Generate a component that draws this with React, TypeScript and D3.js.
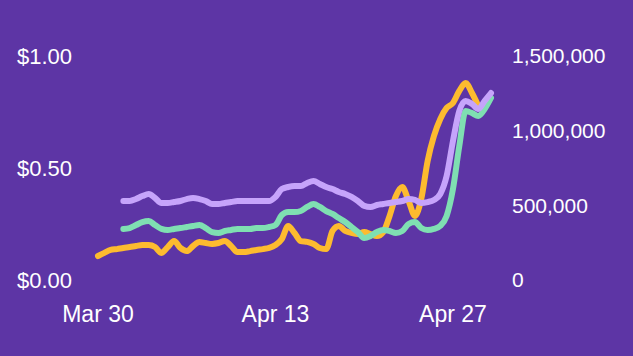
import React from "react";
import * as d3 from "d3";

const W = 633;
const H = 356;

// Half-day samples starting Mar 30, 2020
const startDate = new Date(2020, 2, 30);
const endDate = new Date(2020, 3, 30);
const stepHours = 12;

// Price series (left axis, $), starts Mar 30
const priceValues = [
  0.107, 0.121, 0.134, 0.138, 0.143, 0.147, 0.152, 0.156, 0.156, 0.147,
  0.121, 0.147, 0.174, 0.143, 0.129, 0.152, 0.17, 0.165, 0.161, 0.165,
  0.174, 0.152, 0.125, 0.125, 0.129, 0.134, 0.138, 0.143, 0.156, 0.183,
  0.241, 0.21, 0.174, 0.17, 0.161, 0.143, 0.138, 0.219, 0.241, 0.219,
  0.21, 0.205, 0.214, 0.205, 0.196, 0.214, 0.286, 0.375, 0.415, 0.353,
  0.286, 0.362, 0.531, 0.643, 0.719, 0.768, 0.79, 0.844, 0.879, 0.835,
  0.777,
];

// Count series (right axis), in thousands, start Apr 1
const seriesStartIndex = 4;
const purpleValues = [
  529, 529, 542, 562, 576, 549, 516, 516, 522, 529, 542, 549, 542, 529, 509,
  509, 516, 522, 529, 529, 529, 529, 529, 529, 556, 609, 623, 629, 629, 650,
  663, 643, 623, 609, 589, 576, 556, 529, 496, 489, 502, 509, 516, 522, 529,
  542, 536, 516, 522, 536, 576, 696, 931, 1132, 1199, 1179, 1145, 1199, 1252,
];
const greenValues = [
  342, 348, 368, 388, 395, 368, 342, 335, 342, 348, 355, 362, 368, 348, 321,
  315, 328, 335, 342, 342, 342, 348, 348, 355, 368, 435, 455, 455, 462, 489,
  509, 489, 462, 442, 415, 388, 355, 321, 281, 295, 321, 335, 328, 315, 328,
  375, 388, 348, 335, 342, 362, 429, 609, 897, 1132, 1118, 1098, 1145, 1219,
];

const leftTicks = [0, 0.5, 1];
const rightTicks = [0, 500000, 1000000, 1500000];
const dateTicks = [new Date(2020, 2, 30), new Date(2020, 3, 13), new Date(2020, 3, 27)];

const BG = "#5d35a5";
const TEXT = "#ffffff";
const YELLOW = "#fdbb2f";
const GREEN = "#7fdfb2";
const PURPLE = "#c6a4fb";
const FONT = "'Liberation Sans', Arial, Helvetica, sans-serif";

type Pt = { date: Date; v: number };

function toPoints(values: number[], offset: number, mult: number): Pt[] {
  return values.map((v, i) => ({
    date: d3.timeHour.offset(startDate, (i + offset) * stepHours),
    v: v * mult,
  }));
}

export default function App() {
  if (typeof document !== "undefined") {
    document.body.style.margin = "0";
  }
  const x = d3.scaleTime().domain([startDate, endDate]).range([98, 491]);
  const yL = d3.scaleLinear().domain([0, 1]).range([280, 56]);
  const yR = d3.scaleLinear().domain([0, 1500000]).range([280, 56]);

  const price = toPoints(priceValues, 0, 1);
  const purple = toPoints(purpleValues, seriesStartIndex, 1000);
  const green = toPoints(greenValues, seriesStartIndex, 1000);

  const lineL = d3
    .line<Pt>()
    .x((d) => x(d.date))
    .y((d) => yL(d.v))
    .curve(d3.curveMonotoneX);
  const lineR = d3
    .line<Pt>()
    .x((d) => x(d.date))
    .y((d) => yR(d.v))
    .curve(d3.curveMonotoneX);

  const fmtL = d3.format("$.2f");
  const fmtR = d3.format(",");
  const fmtD = d3.timeFormat("%b %d");

  return (
    <svg width={W} height={H} style={{ display: "block", background: BG }} fontFamily={FONT}>
      <rect x={0} y={0} width={W} height={H} fill={BG} />
      <g>
        {leftTicks.map((t) => (
          <text key={t} x={17} y={yL(t)} dy="0.35em" fill={TEXT} fontSize={22}>
            {fmtL(t)}
          </text>
        ))}
      </g>
      <g>
        {rightTicks.map((t) => (
          <text key={t} x={512} y={yR(t)} dy="0.35em" fill={TEXT} fontSize={21}>
            {fmtR(t)}
          </text>
        ))}
      </g>
      <g>
        {dateTicks.map((t) => (
          <text key={t.getTime()} x={x(t)} y={314} dy="0.35em" textAnchor="middle" fill={TEXT} fontSize={23}>
            {fmtD(t)}
          </text>
        ))}
      </g>
      <g fill="none" strokeWidth={6} strokeLinecap="round" strokeLinejoin="round">
        <path d={lineL(price) || ""} stroke={YELLOW} />
        <path d={lineR(green) || ""} stroke={GREEN} />
        <path d={lineR(purple) || ""} stroke={PURPLE} />
      </g>
    </svg>
  );
}
